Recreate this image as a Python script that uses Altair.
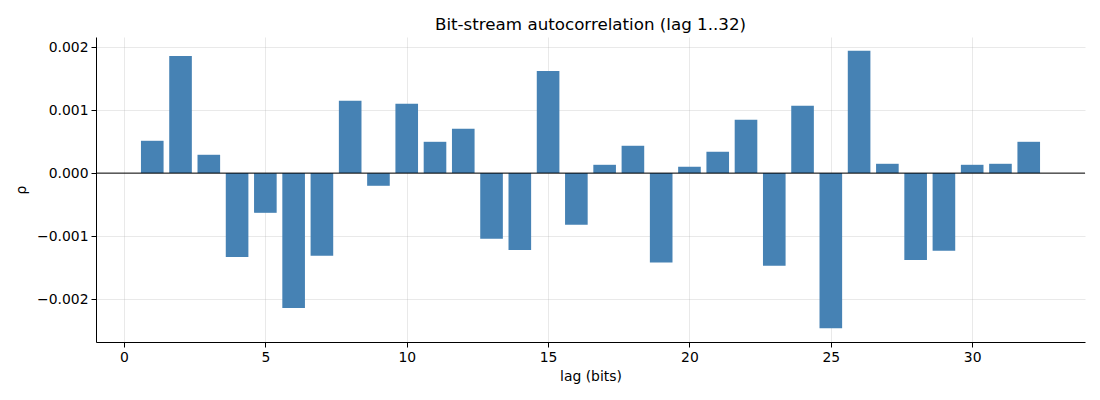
import altair as alt
import pandas as pd

lags = list(range(1, 33))
rho = [0.000513, 0.00186, 0.000291, -0.00133, -0.000630, -0.00214, -0.00131, 0.00115,
       -0.000201, 0.00110, 0.000497, 0.000704, -0.00104, -0.00122, 0.00162, -0.00082,
       0.000132, 0.000434, -0.00142, 0.000101, 0.000339, 0.000847, -0.00147, 0.00107,
       -0.00246, 0.00194, 0.000148, -0.00138, -0.00123, 0.000132, 0.000148, 0.000497]
x_ticks = [0, 5, 10, 15, 20, 25, 30]
y_ticks = [-0.002, -0.001, 0.0, 0.001, 0.002]

df = pd.DataFrame({"lag": lags, "rho": rho})
df["x0"] = df["lag"] - 0.4
df["x1"] = df["lag"] + 0.4

FONT = "DejaVu Sans"

xscale = alt.Scale(domain=[-0.99, 33.99], nice=False, zero=False)
yscale = alt.Scale(domain=[-0.00268, 0.00216], nice=False, zero=False)

bars = alt.Chart(df).mark_bar(color="#4682b4").encode(
    x=alt.X("x0:Q", scale=xscale,
            axis=alt.Axis(values=x_ticks, title="lag (bits)", format="d",
                          grid=True, gridColor="#b0b0b0", gridOpacity=0.35,
                          gridWidth=0.8)),
    x2="x1:Q",
    y=alt.Y("rho:Q", scale=yscale,
            axis=alt.Axis(values=y_ticks, title="ρ", format=".3f",
                          grid=True, gridColor="#b0b0b0", gridOpacity=0.35,
                          gridWidth=0.8)),
    y2=alt.datum(0),
)

zero = alt.Chart(pd.DataFrame({"y": [0.0]})).mark_rule(color="black", strokeWidth=1).encode(
    y=alt.Y("y:Q", scale=yscale)
)

chart = alt.layer(bars, zero).properties(
    width=989, height=305,
    title=alt.Title("Bit-stream autocorrelation (lag 1..32)", font=FONT, fontSize=16.7,
                    fontWeight="normal", color="black", anchor="middle", offset=3),
    autosize=alt.AutoSizeParams(type="none"),
    padding={"left": 88, "top": 29, "right": 7, "bottom": 50},
).configure_view(stroke=None).configure_axis(
    labelFont=FONT, titleFont=FONT, labelFontSize=13.9, titleFontSize=13.9,
    labelColor="black", titleColor="black", titleFontWeight="normal",
    domainColor="black", tickColor="black", domainWidth=1, tickWidth=1,
    tickSize=5, labelPadding=3,
).configure_axisX(titlePadding=6).configure_axisY(titlePadding=8)

chart.save("out.html", embed_options={"renderer": "svg", "actions": False})
